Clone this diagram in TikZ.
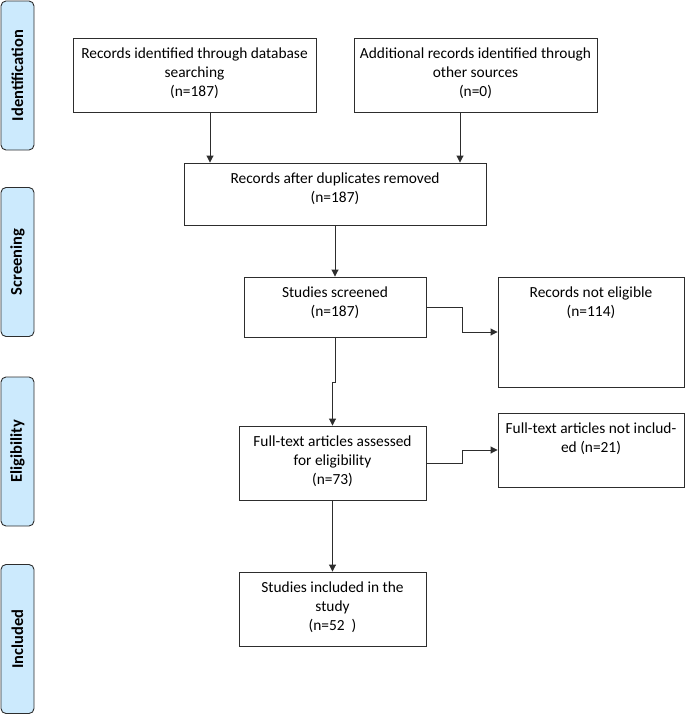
\documentclass[tikz,border=0pt]{standalone}
\usepackage{fontspec}
\setmainfont{Carlito}
\usetikzlibrary{arrows.meta,calc}
\definecolor{phasefill}{RGB}{204,234,253}
\definecolor{linegray}{RGB}{45,45,45}
\tikzset{
	box/.style 2 args={draw=linegray, line width=0.9pt, minimum width=#1, minimum height=#2, inner sep=0pt},
	boxtext/.style={anchor=north, yshift=-10pt, inner sep=0pt, align=center},
	phase/.style={draw=linegray, line width=0.9pt, rounded corners=5pt, fill=phasefill, rotate=90, minimum width=149pt, minimum height=33pt, font=\fontsize{16.5}{19}\selectfont\bfseries},
	arr/.style={draw=linegray, line width=0.9pt, -{Triangle[length=7pt,width=7pt]}}
}
\begin{document}
\begin{tikzpicture}[x=1pt, y=-1pt, font=\fontsize{15.4}{19}\selectfont]
	\useasboundingbox (0,0) rectangle (685,715);
	% phases
	\node[phase] (phid) at (17.5,75.5) {Identification};
	\node[phase] (phsc) at (17.5,262) {Screening};
	\node[phase] (phel) at (17.5,451.5) {Eligibility};
	\node[phase] (phin) at (17.5,639) {Included};
	% boxes
	\node[box={243pt}{74pt}, label={[boxtext]north:{Records identified through database\\searching\\(n=187)}}] (ident) at (194.5,75) {};
	\node[box={243pt}{74pt}, label={[boxtext]north:{Additional records identified through\\other sources\\(n=0)}}] (extra) at (475.5,75) {};
	\node[box={302pt}{62pt}, label={[boxtext]north:{Records after duplicates removed\\(n=187)}}] (dedup) at (335,194) {};
	\node[box={182pt}{60pt}, label={[boxtext]north:{Studies screened\\(n=187)}}] (screen) at (335,307) {};
	\node[box={186pt}{110pt}, label={[boxtext]north:{Records not eligible\\(n=114)}}] (noteli) at (591,332) {};
	\node[box={187pt}{74pt}, label={[boxtext]north:{Full-text articles assessed\\for eligibility\\(n=73)}}] (fulltext) at (332.5,463) {};
	\node[box={186pt}{74pt}, label={[boxtext]north:{Full-text articles not includ-\\ed (n=21)}}] (excl) at (591,450) {};
	\node[box={187pt}{74pt}, label={[boxtext]north:{Studies included in the\\study\\(n=52~ )}}] (incl) at (332.5,609) {};
	% connectors
	\coordinate (identout) at ($(ident.south)+(15.5,0)$);
	\coordinate (extraout) at ($(extra.south)+(-15.5,0)$);
	\draw[arr] (identout) -- (identout |- dedup.north);
	\draw[arr] (extraout) -- (extraout |- dedup.north);
	\draw[arr] (dedup.south) -- (screen.north);
	\draw[arr] (screen.east) -- ++(36,0) |- (noteli.west);
	\draw[arr] (screen.south) -- ++(0,45) -| (fulltext.north);
	\draw[arr] (fulltext.east) -- ++(36,0) |- (excl.west);
	\draw[arr] (fulltext.south) -- (incl.north);
\end{tikzpicture}
\end{document}
